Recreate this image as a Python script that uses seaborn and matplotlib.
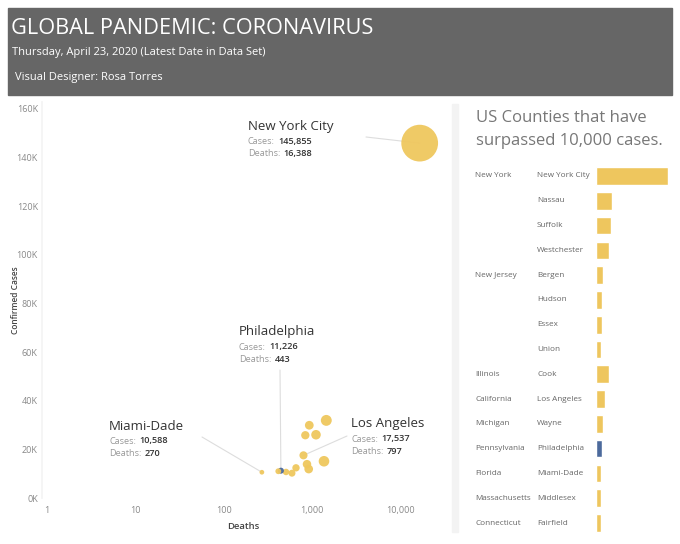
import numpy as np
import pandas as pd
import matplotlib
matplotlib.use("Agg")
import matplotlib.pyplot as plt
import matplotlib.transforms as mtransforms
from matplotlib.patches import Rectangle
import seaborn as sns

# ---------------- data ----------------
states = ["New York", "", "", "", "New Jersey", "", "", "", "Illinois", "California",
          "Michigan", "Pennsylvania", "Florida", "Massachusetts", "Connecticut"]
counties = ["New York City", "Nassau", "Suffolk", "Westchester", "Bergen", "Hudson", "Essex",
            "Union", "Cook", "Los Angeles", "Wayne", "Philadelphia", "Miami-Dade",
            "Middlesex", "Fairfield"]
cases = [145855, 31900, 29900, 25800, 13900, 12400, 11900, 10700, 26000, 17537, 15100,
         11226, 10588, 11000, 10200]
deaths = [16388, 1443, 927, 836, 873, 656, 913, 506, 1104, 797, 1359, 443, 270, 414, 591]
highlight = ["no"] * 11 + ["yes"] + ["no"] * 3
x_ticks = [1, 10, 100, 1000, 10000]
x_tick_labels = ["1", "10", "100", "1,000", "10,000"]
y_ticks = [0, 20000, 40000, 60000, 80000, 100000, 120000, 140000, 160000]
y_tick_labels = ["0K", "20K", "40K", "60K", "80K", "100K", "120K", "140K", "160K"]

df = pd.DataFrame({"state": states, "county": counties, "cases": cases,
                   "deaths": deaths, "hl": highlight})

YELLOW = "#EFC75E"
BLUE = "#4C6A9C"
FONT = ["Open Sans", "DejaVu Sans"]

sns.set_theme(style="white")
plt.rcParams["font.family"] = FONT

W, H = 680, 544
fig = plt.figure(figsize=(W / 100, H / 100), dpi=100)
fig.patch.set_facecolor("white")


def fx(px):
    return px / W


def fy(py):
    return 1 - py / H


# ---------------- header ----------------
fig.patches.append(Rectangle((fx(8), fy(95)), fx(664), (95 - 8) / H,
                             transform=fig.transFigure, color="#666666", zorder=0))
fig.text(fx(11), fy(29), "GLOBAL PANDEMIC: CORONAVIRUS", color="white", fontsize=15.7,
         va="center", ha="left")
fig.text(fx(12), fy(52), "Thursday, April 23, 2020 (Latest Date in Data Set)",
         color="white", fontsize=8.0, va="center", ha="left")
fig.text(fx(15), fy(78), "Visual Designer: Rosa Torres", color="white", fontsize=8.0,
         va="center", ha="left")

# separator band
fig.patches.append(Rectangle((fx(452), fy(532)), fx(6), (532 - 104) / H,
                             transform=fig.transFigure, color="#F3F3F3", zorder=0))

# ---------------- scatter ----------------
Y0, PXK = 498.0, 2.433  # pixel of zero, pixels per thousand
ax = fig.add_axes([fx(42), fy(Y0), fx(445 - 42), (Y0 - 102) / H])
sns.scatterplot(data=df, x="deaths", y="cases", hue="hl",
                palette={"no": YELLOW, "yes": BLUE}, size="deaths",
                sizes=(0, 700), size_norm=(0, max(deaths)), linewidth=0,
                alpha=0.95, legend=False, ax=ax, zorder=3)
ax.set_xscale("log")
ax.set_xlim(10 ** ((42 - 46.7) / 88.5), 10 ** ((445 - 46.7) / 88.5))
ax.set_ylim(0, (Y0 - 102) / PXK * 1000)
ax.set_xticks(x_ticks)
ax.set_xticklabels(x_tick_labels)
ax.set_yticks(y_ticks)
ax.set_yticklabels(y_tick_labels)
ax.minorticks_off()
ax.tick_params(axis="both", labelsize=6.5, colors="#888888", length=0)
ax.tick_params(axis="x", pad=6)
ax.tick_params(axis="y", pad=3)
for s in ax.spines.values():
    s.set_visible(False)
ax.spines["left"].set_visible(True)
ax.spines["left"].set_color("#F4F4F4")
ax.set_xlabel("Deaths", fontsize=6.8, color="#444444", fontweight="semibold", labelpad=5)
ax.set_ylabel("Confirmed Cases", fontsize=6.0, color="#444444", fontweight="semibold")
ax.yaxis.set_label_coords((20 - 42) / (445 - 42), 0.5)


def block(name, x, y):
    fig.text(fx(x), fy(y), name, fontsize=9.5, color="#333333", va="center", ha="left")
    r = df[df.county == name].iloc[0]
    for i, (lab, val) in enumerate([("Cases:", f"{r.cases:,}"), ("Deaths:", f"{r.deaths:,}")]):
        yy = y + 15 + 12.5 * i
        lt = fig.text(fx(x), fy(yy), lab, fontsize=6.6, color="#999999", va="center", ha="left")
        ax.annotate(val, xy=(1, 0.5), xycoords=lt, xytext=(2.5, 0),
                    textcoords="offset points", fontsize=6.6, color="#333333",
                    fontweight="semibold", va="center", ha="left", annotation_clip=False)


def leader(name, px, py):
    r = df[df.county == name].iloc[0]
    ax.annotate("", xy=(r.deaths, r.cases), xycoords="data",
                xytext=(fx(px), fy(py)), textcoords="figure fraction",
                arrowprops=dict(arrowstyle="-", color="#DDDDDD", lw=0.8,
                                shrinkA=0, shrinkB=0), zorder=1)


block("New York City", 248, 126)
leader("New York City", 366, 137)
block("Philadelphia", 239, 332)
leader("Philadelphia", 280, 370)
block("Miami-Dade", 109, 426)
leader("Miami-Dade", 202, 437)
block("Los Angeles", 351, 424)
leader("Los Angeles", 347, 436)

# ---------------- bar chart ----------------
fig.text(fx(476), fy(118), "US Counties that have", fontsize=12.0, color="#777777",
         va="center", ha="left")
fig.text(fx(476), fy(141), "surpassed 10,000 cases.", fontsize=12.0, color="#777777",
         va="center", ha="left")

bx = fig.add_axes([fx(596), fy(535.4), fx(668 - 596), (535.4 - 163.6) / H])
sns.barplot(data=df, x="cases", y="county", hue="hl", palette={"no": "#EEC65E", "yes": BLUE},
            dodge=False, width=0.71, saturation=1, legend=False, ax=bx, orient="h")
bx.set_xlim(0, max(cases))
bx.set_ylim(len(counties) - 0.5, -0.5)
bx.set_xticks([])
bx.set_yticks([])
bx.set_xlabel("")
bx.set_ylabel("")
for s in bx.spines.values():
    s.set_visible(False)
tr = mtransforms.blended_transform_factory(fig.transFigure, bx.transData)
for i, (st, co) in enumerate(zip(states, counties)):
    if st:
        fig.text(fx(475), i, st, transform=tr, fontsize=5.9, color="#666666",
                 va="center", ha="left")
    fig.text(fx(537), i, co, transform=tr, fontsize=5.9, color="#666666",
             va="center", ha="left")

fig.savefig("out.png", dpi=100, facecolor="white")
